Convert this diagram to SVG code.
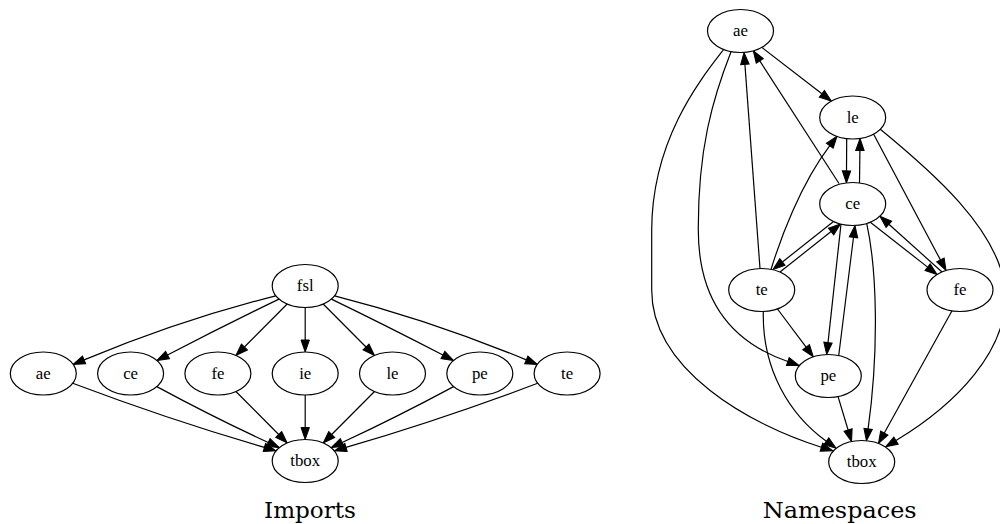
<svg xmlns="http://www.w3.org/2000/svg" width="1000" height="524" viewBox="0 0 1000 524">
<style>
.n ellipse{fill:#fff;stroke:#000;stroke-width:1.2}
.n text{font-family:"Liberation Serif",serif;font-size:16.8px;text-anchor:middle;fill:#000}
.e path{fill:none;stroke:#000;stroke-width:1.2;marker-end:url(#ah)}
.cap{font-family:"DejaVu Serif",serif;font-size:22.5px;text-anchor:middle;fill:#000}
</style>
<defs>
<marker id="ah" markerUnits="userSpaceOnUse" markerWidth="14" markerHeight="10" refX="0" refY="4.2" orient="auto" overflow="visible"><path d="M0,0 L12,4.2 L0,8.4 z" fill="#000" stroke="#000" stroke-width="1"/></marker>
</defs>
<rect width="1000" height="524" fill="#fff"/>
<g id="imports-edges" class="e">
<path d="M275.8,295.8 Q180,320 84.1,359.9"/>
<path d="M279,299.1 Q225,325 167.5,355"/>
<path d="M287.2,304 L244.4,347"/>
<path d="M305.2,307.5 L305.2,340"/>
<path d="M323.2,304 L366,347"/>
<path d="M331.4,299.1 Q385,325 442.9,355"/>
<path d="M334.6,295.8 Q430,320 526.3,359.9"/>
<path d="M72.7,383.3 Q170,420 264.4,447.4"/>
<path d="M156.8,386.6 Q215,418 268.3,442.5"/>
<path d="M235.9,391.5 L278.7,434.5"/>
<path d="M305.2,395 L305.2,427.5"/>
<path d="M374.5,391.5 L331.7,434.5"/>
<path d="M453.6,386.6 Q395,418 342.1,442.5"/>
<path d="M537.7,383.3 Q440,420 346,447.4"/>
</g>
<g id="i-fsl" class="n"><ellipse cx="305.2" cy="286" rx="33" ry="21.5"/><text x="305.2" y="291">fsl</text></g>
<g id="i-ae" class="n"><ellipse cx="43.3" cy="373.5" rx="33" ry="21.5"/><text x="43.3" y="378.5">ae</text></g>
<g id="i-ce" class="n"><ellipse cx="130.6" cy="373.5" rx="33" ry="21.5"/><text x="130.6" y="378.5">ce</text></g>
<g id="i-fe" class="n"><ellipse cx="217.9" cy="373.5" rx="33" ry="21.5"/><text x="217.9" y="378.5">fe</text></g>
<g id="i-ie" class="n"><ellipse cx="305.2" cy="373.5" rx="33" ry="21.5"/><text x="305.2" y="378.5">ie</text></g>
<g id="i-le" class="n"><ellipse cx="392.5" cy="373.5" rx="33" ry="21.5"/><text x="392.5" y="378.5">le</text></g>
<g id="i-pe" class="n"><ellipse cx="479.8" cy="373.5" rx="33" ry="21.5"/><text x="479.8" y="378.5">pe</text></g>
<g id="i-te" class="n"><ellipse cx="567.1" cy="373.5" rx="33" ry="21.5"/><text x="567.1" y="378.5">te</text></g>
<g id="i-tbox" class="n"><ellipse cx="305.2" cy="461" rx="33" ry="21.5"/><text x="305.2" y="466">tbox</text></g>
<text class="cap" x="310" y="518" textLength="92" lengthAdjust="spacingAndGlyphs">Imports</text>

<g id="namespaces-edges" class="e">
<path d="M761.8,47.4 L821.9,93.8"/>
<path d="M839,183.5 L759.8,60.9"/>
<path d="M760,268.5 L744.9,64.4"/>
<path d="M723.3,50 C700,80 652,140 651.7,230 L651.7,290 C651.7,370 750,425 821.4,447.2"/>
<path d="M731.7,50 C712,100 698,150 698.3,230 C698.3,310 740,345 787.8,361.5"/>
<path d="M846.7,138.6 L846.5,170.9"/>
<path d="M859.5,183 L859.9,150.5"/>
<path d="M771,269.5 C780,240 800,185 829.8,145.7"/>
<path d="M873.5,134 L940.4,259.9"/>
<path d="M880,129 C930,170 1000,230 1005,290 C1010,350 955,405 896,440.6"/>
<path d="M833.5,221.5 L782.4,262"/>
<path d="M780,272 L831.1,231.5"/>
<path d="M870,222 L927.6,267.1"/>
<path d="M942,272 L888.9,224.3"/>
<path d="M841,224 L828,342.6"/>
<path d="M838.7,355.6 L853.5,237.3"/>
<path d="M866.7,223.3 C877,270 879,350 868.1,428.9"/>
<path d="M777.5,309 L806.1,347.2"/>
<path d="M763.3,311.5 C762,370 790,415 826.3,441.2"/>
<path d="M838,396.4 L848.1,430"/>
<path d="M952,310.8 L884.3,433"/>
</g>
<g id="n-ae" class="n"><ellipse cx="740.5" cy="31" rx="33" ry="21.5"/><text x="740.5" y="36">ae</text></g>
<g id="n-le" class="n"><ellipse cx="852.7" cy="117.5" rx="33" ry="21.5"/><text x="852.7" y="122.5">le</text></g>
<g id="n-ce" class="n"><ellipse cx="852.7" cy="204" rx="33" ry="21.5"/><text x="852.7" y="209">ce</text></g>
<g id="n-te" class="n"><ellipse cx="761.7" cy="290" rx="33" ry="21.5"/><text x="761.7" y="295">te</text></g>
<g id="n-fe" class="n"><ellipse cx="960" cy="290" rx="33" ry="21.5"/><text x="960" y="295">fe</text></g>
<g id="n-pe" class="n"><ellipse cx="828.3" cy="376" rx="33" ry="21.5"/><text x="828.3" y="381">pe</text></g>
<g id="n-tbox" class="n"><ellipse cx="861.7" cy="462" rx="33" ry="21.5"/><text x="861.7" y="467">tbox</text></g>
<text class="cap" x="839.7" y="518" textLength="154" lengthAdjust="spacingAndGlyphs">Namespaces</text>
</svg>
